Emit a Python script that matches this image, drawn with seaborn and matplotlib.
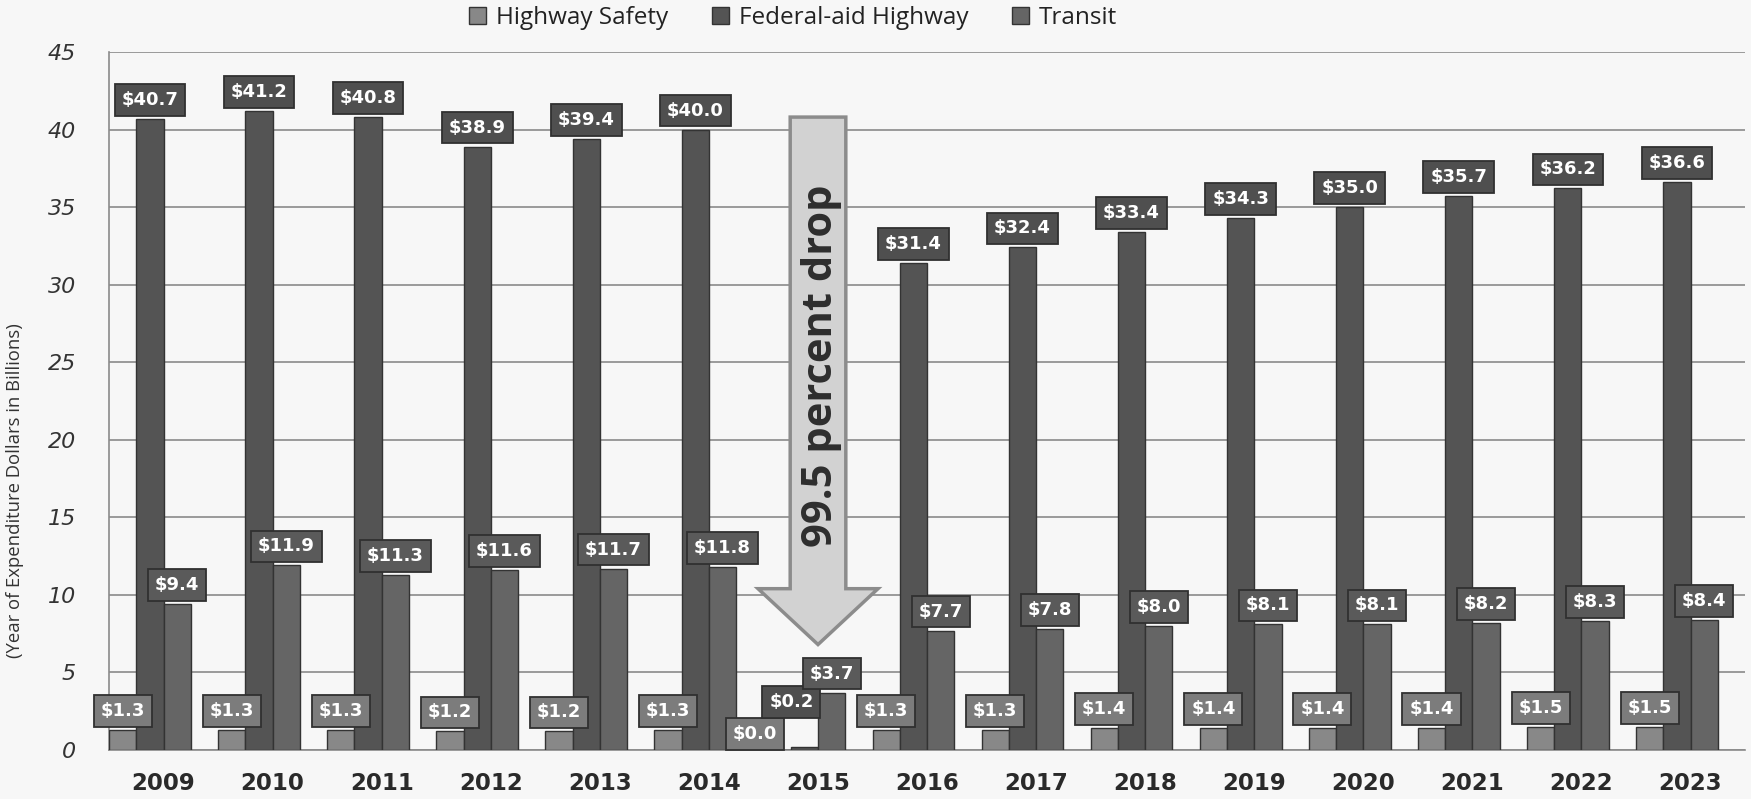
import matplotlib
matplotlib.use("Agg")
import matplotlib.pyplot as plt
from matplotlib.patches import Patch, FancyArrow
import seaborn as sns
import pandas as pd

# values in billions
years = [str(y) for y in range(2009, 2024)]
highway_safety = [1.3, 1.3, 1.3, 1.2, 1.2, 1.3, 0.0, 1.3, 1.3, 1.4, 1.4, 1.4, 1.4, 1.5, 1.5]
federal_aid = [40.7, 41.2, 40.8, 38.9, 39.4, 40.0, 0.2, 31.4, 32.4, 33.4, 34.3, 35.0, 35.7, 36.2, 36.6]
transit = [9.4, 11.9, 11.3, 11.6, 11.7, 11.8, 3.7, 7.7, 7.8, 8.0, 8.1, 8.1, 8.2, 8.3, 8.4]
series_names = ["Highway Safety", "Federal-aid Highway", "Transit"]
y_ticks = [0, 5, 10, 15, 20, 25, 30, 35, 40, 45]
arrow_text = "99.5 percent drop"
arrow_top, arrow_tip, arrow_head_start = 40.8, 6.8, 10.4

bar_colors = ["#888888", "#545454", "#656565"]
box_colors = ["#7c7c7c", "#4f4f4f", "#5a5a5a"]
bg = "#f7f7f7"

rows = []
for name, vals in zip(series_names, [highway_safety, federal_aid, transit]):
    for yr, v in zip(years, vals):
        rows.append({"year": yr, "series": name, "value": v})
# empty fourth slot, the original chart leaves room for it in every group
for yr in years:
    rows.append({"year": yr, "series": "_blank", "value": 0.0})
df = pd.DataFrame(rows)

sns.set_style("white")
plt.rcParams["font.family"] = ["Open Sans", "DejaVu Sans"]

fig = plt.figure(figsize=(17.51, 7.99), dpi=100, facecolor=bg)
ax = fig.add_axes([0.0623, 0.0613, 0.9343, 0.8737])
ax.set_facecolor(bg)

sns.barplot(data=df, x="year", y="value", hue="series",
            hue_order=series_names + ["_blank"],
            palette=bar_colors + [bg], width=1.0, order=years,
            edgecolor="#333333", linewidth=1.0, legend=False, ax=ax, zorder=3)
for p in ax.containers[3]:
    p.set_visible(False)

ax.set_xlim(-0.5, 14.5)
ax.set_ylim(0, 45)
ax.set_yticks(y_ticks)
ax.yaxis.grid(True, color="#8a8a8a", lw=1.2, zorder=0)
ax.set_axisbelow(True)
for s in ["top", "right"]:
    ax.spines[s].set_visible(False)
ax.spines["left"].set_color("#8a8a8a")
ax.spines["bottom"].set_color("#8a8a8a")
ax.spines["left"].set_linewidth(1.2)
ax.spines["bottom"].set_linewidth(1.2)

# category separators under the axis like the original
ax.set_xticks([i - 0.5 for i in range(len(years) + 1)], minor=True)
ax.tick_params(axis="x", which="minor", length=9, color="#8a8a8a", width=1.2)
ax.tick_params(axis="x", which="major", length=0, pad=16, labelsize=16.5, labelcolor="#2a2a2a")
ax.tick_params(axis="y", length=9, color="#8a8a8a", width=1.2, pad=15, labelsize=16, labelcolor="#333333")
for lab in ax.get_xticklabels():
    lab.set_fontfamily("DejaVu Sans")
    lab.set_fontweight("bold")
for lab in ax.get_yticklabels():
    lab.set_fontfamily("DejaVu Sans")
    lab.set_fontstyle("italic")

ax.set_xlabel("")
ax.set_ylabel("(Year of Expenditure Dollars in Billions)", fontsize=13.3, color="#333333")
ax.yaxis.set_label_coords(-0.052, 0.371)

# manual nudges (pixels) for the crowded 2015 labels
nudges = {(0, 6): (-22, -3), (1, 6): (-13, 26)}

for si, cont in enumerate(ax.containers[:3]):
    vals = [highway_safety, federal_aid, transit][si]
    for bi, (bar, v) in enumerate(zip(cont, vals)):
        x = bar.get_x() + bar.get_width() / 2
        dx, dy = nudges.get((si, bi), (0, 0))
        ax.annotate(f"${v:.1f}", xy=(x, v), xytext=(dx * 0.72, (dy + 10) * 0.72),
                    textcoords="offset points", ha="center", va="bottom",
                    fontsize=13, fontweight="bold", color="white", zorder=6,
                    family="DejaVu Sans",
                    bbox=dict(boxstyle="square,pad=0.38", fc=box_colors[si],
                              ec="#303030", lw=1.3))

# the drop arrow over 2015
arr = FancyArrow(6, arrow_top, 0, arrow_tip - arrow_top, width=0.51, head_width=1.1,
                 head_length=arrow_head_start - arrow_tip, length_includes_head=True,
                 fc="#d2d2d2", ec="#8c8c8c", lw=2.5, zorder=5)
ax.add_patch(arr)
ax.text(6.03, 24.8, arrow_text, rotation=90, ha="center", va="center",
        fontsize=30, fontweight="bold", color="#2e2e2e", zorder=7)

handles = [Patch(fc=c, ec="#333333", lw=1) for c in bar_colors]
fig.legend(handles, series_names, loc="center", bbox_to_anchor=(0.453, 0.977),
           ncol=3, frameon=False, fontsize=17.5, handlelength=0.7, handleheight=0.7,
           handletextpad=0.4, columnspacing=1.8, labelcolor="#222222")

fig.savefig("out.png", dpi=100, facecolor=bg)
